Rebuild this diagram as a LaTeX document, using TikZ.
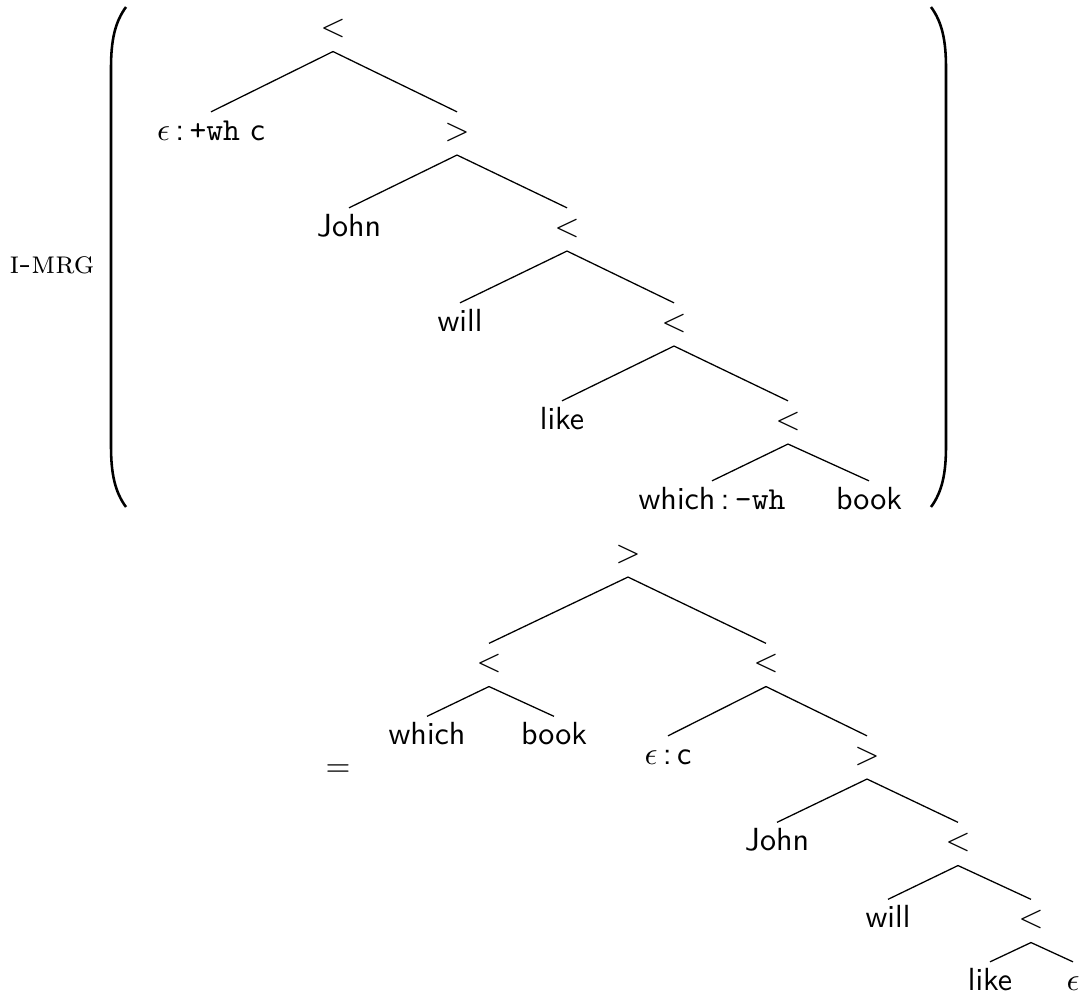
\documentclass[tikz,border=0pt]{standalone}
\begin{document}
\begin{tikzpicture}[x=0.3125pt,y=-0.3125pt,
  tn/.style={anchor=base, inner sep=0pt, text height=8.6pt, text depth=4.5pt, font=\sffamily},
  lab/.style={anchor=base, inner sep=0pt},
  edge/.style={line width=0.4pt},
  paren/.style={line width=0.8pt}]
\useasboundingbox (0,0) rectangle (1088,998);

% label and parentheses
\node[lab] (imrg) at (52,273) {\textsc{i-mrg}};
\draw[paren] (126,7) .. controls (115,22) and (111,40) .. (111,68) -- (111,446) .. controls (111,474) and (115,492) .. (126,507);
\draw[paren] (931,7) .. controls (942,22) and (946,40) .. (946,68) -- (946,446) .. controls (946,474) and (942,492) .. (931,507);

% top tree
\node[tn] (t1) at (333,36.5) {$<$};
\node[tn] (t2) at (211,140) {$\epsilon$\,:\,\texttt{+wh} c};
\node[tn] (t3) at (457,140) {$>$};
\node[tn] (t4) at (349,236) {John};
\node[tn] (t5) at (567,236) {$<$};
\node[tn] (t6) at (460,331) {will};
\node[tn] (t7) at (674,331) {$<$};
\node[tn] (t8) at (562,429) {like};
\node[tn] (t9) at (788,429) {$<$};
\node[tn] (t10) at (712,509) {which\,:\,\texttt{-wh}};
\node[tn] (t11) at (869,509) {book};

\draw[edge] (t1.south) -- (t2.north);
\draw[edge] (t1.south) -- (t3.north);
\draw[edge] (t3.south) -- (t4.north);
\draw[edge] (t3.south) -- (t5.north);
\draw[edge] (t5.south) -- (t6.north);
\draw[edge] (t5.south) -- (t7.north);
\draw[edge] (t7.south) -- (t8.north);
\draw[edge] (t7.south) -- (t9.north);
\draw[edge] (t9.south) -- (t10.north);
\draw[edge] (t9.south) -- (t11.north);

% equals sign
\node[lab] (eq) at (338,776) {$=$};

% bottom tree
\node[tn] (b1) at (628,562) {$>$};
\node[tn] (b2) at (489,671.5) {$<$};
\node[tn] (b3) at (766,671.5) {$<$};
\node[tn] (b4) at (427,744.5) {which};
\node[tn] (b5) at (554,744.5) {book};
\node[tn] (b6) at (668,764) {$\epsilon$\,:\,c};
\node[tn] (b7) at (867,764) {$>$};
\node[tn] (b8) at (777,850.5) {John};
\node[tn] (b9) at (958,850.5) {$<$};
\node[tn] (b10) at (888,927.5) {will};
\node[tn] (b11) at (1031,927.5) {$<$};
\node[tn] (b12) at (990,990) {like};
\node[tn] (b13) at (1073,990) {$\epsilon$};

\draw[edge] (b1.south) -- (b2.north);
\draw[edge] (b1.south) -- (b3.north);
\draw[edge] (b2.south) -- (b4.north);
\draw[edge] (b2.south) -- (b5.north);
\draw[edge] (b3.south) -- (b6.north);
\draw[edge] (b3.south) -- (b7.north);
\draw[edge] (b7.south) -- (b8.north);
\draw[edge] (b7.south) -- (b9.north);
\draw[edge] (b9.south) -- (b10.north);
\draw[edge] (b9.south) -- (b11.north);
\draw[edge] (b11.south) -- (b12.north);
\draw[edge] (b11.south) -- (b13.north);
\end{tikzpicture}
\end{document}
